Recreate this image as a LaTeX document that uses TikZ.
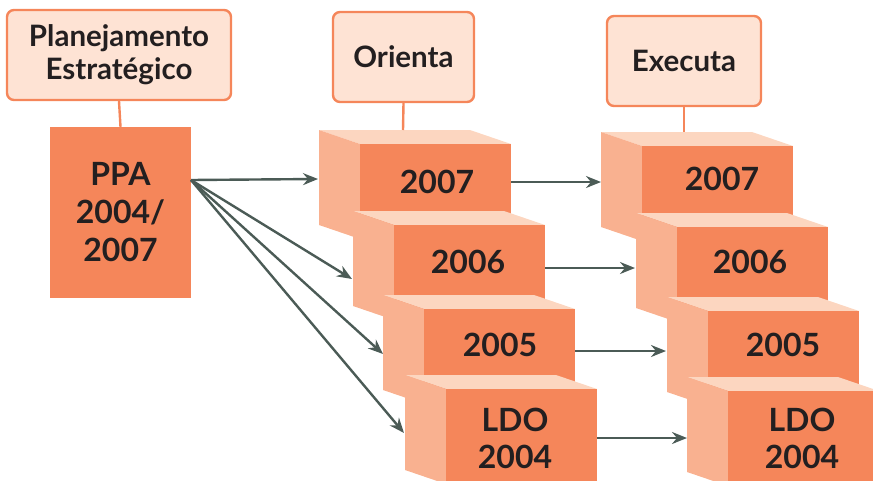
\documentclass[tikz,border=0pt]{standalone}
\usepackage{fontspec}
\setmainfont{Lato}
\usetikzlibrary{arrows.meta}
\definecolor{frontc}{HTML}{F5865A}
\definecolor{sidec}{HTML}{F9B190}
\definecolor{topc}{HTML}{FCD6C0}
\definecolor{boxfill}{HTML}{FEE3D4}
\definecolor{arrowc}{HTML}{4B5B56}
\definecolor{textc}{HTML}{231F20}
\newcommand\mycube[6]{%
  \fill[topc] (#2,#3) -- ++(151,0) -- ++(41,14) -- ++(-151,0) -- cycle;
  \fill[sidec] (#2,#3) -- ++(41,14) -- ++(0,95) -- ++(-41,-14) -- cycle;
  \node[front, anchor=north west] (#1) at ({#2+41},{#3+14}) {};
  \node[cubetext] (#1t) at (#4,#5) {#6};
}
\begin{document}
\begin{tikzpicture}[x=1pt,y=-1pt,
  labelbox/.style={draw=frontc, line width=2.4pt, fill=boxfill, rounded corners=7pt,
    inner sep=0pt, text=textc, font=\fontsize{29.5}{33}\selectfont\bfseries, align=center},
  front/.style={fill=frontc, minimum width=151pt, minimum height=95pt, inner sep=0pt, outer sep=0pt},
  ppabox/.style={fill=frontc, minimum width=141pt, minimum height=171pt, inner sep=0pt,
    text=textc, font=\fontsize{32}{38}\selectfont\bfseries, align=center},
  cubetext/.style={text=textc, font=\fontsize{32}{37}\selectfont\bfseries, align=center, inner sep=0pt},
  link/.style={draw=frontc, line width=2.4pt},
  flow/.style={draw=arrowc, line width=2.4pt, -{Stealth[length=15pt,width=12pt,inset=5pt]}}
]
\useasboundingbox (0,0) rectangle (873,480);
\clip (0,0) rectangle (873,480);

% label boxes
\node[labelbox, minimum width=224pt, minimum height=90pt] (plan) at (119,55) {Planejamento\\Estratégico};
\node[labelbox, minimum width=141pt, minimum height=90pt] (orient) at (403.5,57) {Orienta};
\node[labelbox, minimum width=154pt, minimum height=90pt] (exec) at (684,61) {Executa};

% PPA
\node[ppabox] (ppa) at (120.5,212.5) {PPA\\2004/\\2007};
\draw[link] (plan.south) -- (ppa.north);

% left column
\mycube{L1}{319}{130}{437}{182}{2007}
\mycube{L2}{353}{211}{468}{262}{2006}
\mycube{L3}{383}{295}{500}{345}{2005}
\mycube{L4}{405}{375}{515}{438}{LDO\\2004}
% right column
\mycube{R1}{601}{132}{722}{179}{2007}
\mycube{R2}{636}{213}{750}{262}{2006}
\mycube{R3}{667}{297}{783}{345}{2005}
\mycube{R4}{687}{377}{802}{438}{LDO\\2004}

% connectors from headers
\coordinate (otop) at (403,130);
\coordinate (etop) at (684,132);
\draw[link] (orient.south) -- (otop);
\draw[link] (exec.south) -- (etop);

% PPA arrows
\coordinate (pout) at (191,180);
\coordinate (l1in) at (318,179);
\coordinate (l2in) at (352,279);
\coordinate (l3in) at (383,354);
\coordinate (l4in) at (404,433);
\draw[flow] (pout) -- (l1in);
\draw[flow] (pout) -- (l2in);
\draw[flow] (pout) -- (l3in);
\draw[flow] (pout) -- (l4in);

% horizontal arrows
\coordinate (r1in) at (601,182);
\coordinate (r2in) at (635,268);
\coordinate (r3in) at (666,351);
\coordinate (r4in) at (687,438);
\draw[flow] (L1.east |- r1in) -- (r1in);
\draw[flow] (L2.east |- r2in) -- (r2in);
\draw[flow] (L3.east |- r3in) -- (r3in);
\draw[flow] (L4.east |- r4in) -- (r4in);
\end{tikzpicture}
\end{document}
